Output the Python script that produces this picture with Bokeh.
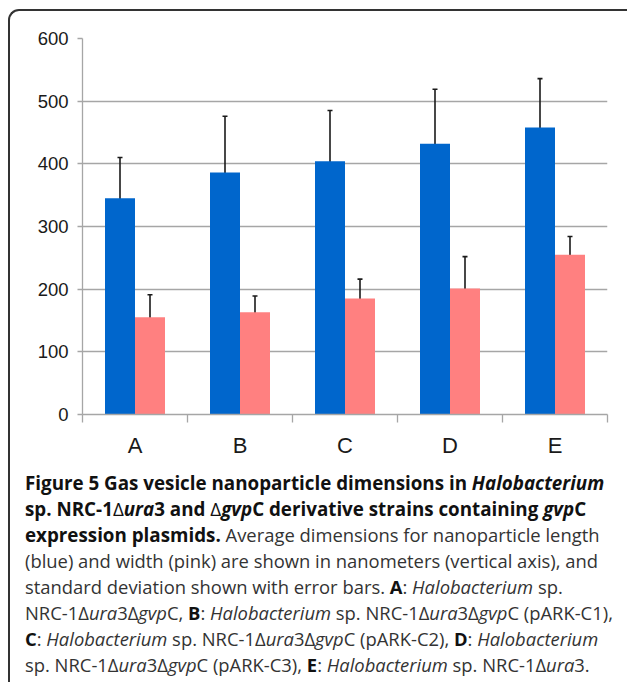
import numpy as np
from bokeh.plotting import figure
from bokeh.models import Range1d, FixedTicker, SingleIntervalTicker, ColumnDataSource, Whisker, TeeHead, Div
from bokeh.layouts import column
from bokeh.embed import file_html
from bokeh.resources import INLINE

# ---------------- data ----------------
categories = ["A", "B", "C", "D", "E"]
length_mean = [345, 386, 404, 432, 458]   # blue bars (nm)
length_sd = [65, 90, 81, 87, 78]
width_mean = [155, 163, 185, 201, 255]    # pink bars (nm)
width_sd = [36, 26, 31, 51, 29]
y_tick_step = 100

D = '<span style="font-weight:normal">Δ</span>'
caption_lines = [
    "<b>Figure 5 Gas vesicle nanoparticle dimensions in <i>Halobacterium</i></b>",
    f"<b>sp. NRC-1{D}<i>ura</i>3 and {D}<i>gvp</i>C derivative strains containing <i>gvp</i>C</b>",
    '<b>expression plasmids.</b><span class="r"> Average dimensions for nanoparticle length</span>',
    '<span class="r">(blue) and width (pink) are shown in nanometers (vertical axis), and</span>',
    '<span class="r">standard deviation shown with error bars. <b>A</b>: <i>Halobacterium</i> sp.</span>',
    '<span class="r">NRC-1Δ<i>ura</i>3Δ<i>gvp</i>C, <b>B</b>: <i>Halobacterium</i> sp. '
    'NRC-1Δ<i>ura</i>3Δ<i>gvp</i>C (pARK-C1),</span>',
    '<span class="r"><b>C</b>: <i>Halobacterium</i> sp. NRC-1Δ<i>ura</i>3Δ<i>gvp</i>C (pARK-C2), '
    '<b>D</b>: <i>Halobacterium</i></span>',
    '<span class="r">sp. NRC-1Δ<i>ura</i>3Δ<i>gvp</i>C (pARK-C3), <b>E</b>: <i>Halobacterium</i> '
    'sp. NRC-1Δ<i>ura</i>3.</span>',
]

# ---------------- chart ----------------
BLUE = "#0066cc"
PINK = "#ff8080"
GRID = "#a6a6a6"
INK = "#1a1a1a"

n = len(categories)
idx = np.arange(n)
bw = 0.2857
src = ColumnDataSource(dict(
    xb=idx + 0.5 - bw / 2, xp=idx + 0.5 + bw / 2,
    lm=length_mean, wm=width_mean,
    lu=np.array(length_mean) + np.array(length_sd), ll=np.array(length_mean) - np.array(length_sd),
    wu=np.array(width_mean) + np.array(width_sd), wl=np.array(width_mean) - np.array(width_sd),
))

W = 617
p = figure(width=W, height=453, x_range=Range1d(0, n), y_range=Range1d(0, 600),
           output_backend="svg", toolbar_location=None,
           min_border_left=72, min_border_right=20, min_border_top=27, min_border_bottom=50,
           outline_line_color=None, background_fill_color=None, border_fill_color=None)

p.vbar(x="xb", top="lm", bottom=0, width=bw, source=src, fill_color=BLUE, line_color=None)
p.vbar(x="xp", top="wm", bottom=0, width=bw, source=src, fill_color=PINK, line_color=None)

for base, up, lo in [("xb", "lu", "ll"), ("xp", "wu", "wl")]:
    p.add_layout(Whisker(source=src, base=base, upper=up, lower=lo, line_color=INK, line_width=1.6,
                         upper_head=TeeHead(size=5, line_color=INK, line_width=1.6),
                         lower_head=TeeHead(size=5, line_color=INK, line_width=1.6)))

p.xgrid.visible = False
p.ygrid.grid_line_color = GRID
p.ygrid.grid_line_width = 1.3
p.ygrid.ticker = SingleIntervalTicker(interval=y_tick_step, num_minor_ticks=0)

ya = p.yaxis[0]
ya.ticker = SingleIntervalTicker(interval=y_tick_step, num_minor_ticks=0)
ya.axis_line_color = GRID
ya.axis_line_width = 1.3
ya.major_tick_line_color = GRID
ya.major_tick_line_width = 1.3
ya.major_tick_out = 5
ya.major_tick_in = 0
ya.minor_tick_line_color = None
ya.major_label_standoff = 9
ya.major_label_text_font = "Liberation Sans"
ya.major_label_text_font_size = "18.5px"
ya.major_label_text_color = INK

xa = p.xaxis[0]
xa.ticker = FixedTicker(ticks=[i + 0.5 for i in range(n)], minor_ticks=list(range(n + 1)))
xa.major_label_overrides = {i + 0.5: c for i, c in enumerate(categories)}
xa.axis_line_color = GRID
xa.axis_line_width = 1.3
xa.major_tick_line_color = None
xa.major_tick_out = 0
xa.major_tick_in = 0
xa.minor_tick_line_color = GRID
xa.minor_tick_line_width = 1.3
xa.minor_tick_out = 8
xa.minor_tick_in = 0
xa.major_label_standoff = 10
xa.major_label_text_font = "Liberation Sans"
xa.major_label_text_font_size = "22px"
xa.major_label_text_color = INK

# ---------------- caption ----------------
cap_html = (
    '<style>.cap b{font-weight:bold;color:#111111}.cap .r{font-size:18.4px}</style>'
    '<div class="cap" style="font-family:\'Open Sans\';font-size:18.8px;line-height:26px;'
    'color:#333333;white-space:nowrap;padding:6px 0 0 15px;margin:0">'
    + "<br>".join(caption_lines) + "</div>"
)
cap = Div(text=cap_html, width=W, height=218, margin=0)

layout = column(p, cap, spacing=0,
                styles={"margin-left": "8px", "margin-top": "9px",
                        "border-top": "2px solid #333333", "border-left": "2px solid #333333",
                        "border-top-left-radius": "11px"})
open("out.html", "w").write(file_html(layout, INLINE))
